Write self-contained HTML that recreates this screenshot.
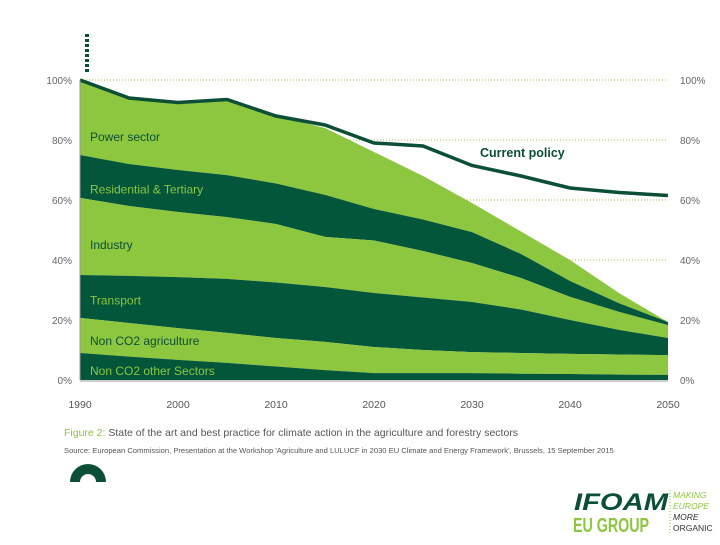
<!DOCTYPE html>
<html><head><meta charset="utf-8"><style>
body{margin:0;background:#fff;width:720px;height:540px;overflow:hidden;font-family:"Liberation Sans",sans-serif}
svg text{font-family:"Liberation Sans",sans-serif}
</style></head><body>
<svg id="chart" width="720" height="540" viewBox="0 0 720 540" xmlns="http://www.w3.org/2000/svg">
<g id="grid"></g><g id="areas"></g><g id="line"></g><g id="axes"></g><g id="labels"></g>
<text x="64" y="436" font-size="10.5" fill="#555"><tspan fill="#8dc63f">Figure 2:</tspan>  State of the art and best practice for climate action in the agriculture and forestry sectors</text>
<text x="64" y="453" font-size="7.6" fill="#555">Source: European Commission, Presentation at the Workshop 'Agriculture and LULUCF in 2030 EU Climate and Energy Framework', Brussels, 15 September 2015</text>
<path d="M70,482 A18,18 0 0 1 106,482 L96,482 A8,8 0 0 0 80,482 Z" fill="#0b4f36"/>
<g>
<text x="574" y="510" font-size="24" font-weight="bold" font-style="italic" fill="#0b4f36" textLength="94" lengthAdjust="spacingAndGlyphs">IFOAM</text>
<text x="573" y="532" font-size="20" font-weight="bold" fill="#8dc63f" textLength="76" lengthAdjust="spacingAndGlyphs">EU GROUP</text>
<line x1="670" y1="490" x2="670" y2="534" stroke="#8dc63f" stroke-dasharray="1,2"/>
<text x="673" y="498" font-size="8.5" font-style="italic" fill="#8dc63f">MAKING</text>
<text x="673" y="509" font-size="8.5" font-style="italic" fill="#8dc63f">EUROPE</text>
<text x="673" y="520" font-size="8.5" font-style="italic" fill="#333">MORE</text>
<text x="673" y="531" font-size="8.5" fill="#333">ORGANIC</text>
</g>
<g fill="#0b4f36">
<rect x="85" y="34" width="4" height="3"/><rect x="85" y="39" width="4" height="3"/><rect x="85" y="44" width="4" height="3"/><rect x="85" y="49" width="4" height="3"/><rect x="85" y="54" width="4" height="3"/><rect x="85" y="59" width="4" height="3"/><rect x="85" y="64" width="4" height="3"/><rect x="85" y="69" width="4" height="3"/>
</g>
</svg>
<script>
const years=[1990,1995,2000,2005,2010,2015,2020,2025,2030,2035,2040,2045,2050];
const currentPolicy=[100,94,92.5,93.5,88,85,79,78,71.5,68,64,62.5,61.5];
const powerTop=[100,94,92.5,93.5,88,84,76,68,59,49.5,40,29,19.3];
const residentialTop=[75,72,70,68.3,65.5,61.7,57,53.5,49.3,42,33,25.6,19.3];
const industryTop=[60.7,58,56,54.3,52,47.7,46.5,43,39,34,27.7,22.7,18.3];
const transportTop=[35,34.7,34.3,33.7,32.5,31,29,27.5,26,23.5,20,16.7,14];
const agriTop=[20.7,19,17.3,15.7,14,12.7,11,10,9.3,9,8.7,8.5,8.3];
const otherTop=[9,7.8,6.7,5.7,4.5,3.3,2.3,2.3,2.3,2.1,2,1.8,1.7];
const yTicks=[0,20,40,60,80,100];
const xTicks=[1990,2000,2010,2020,2030,2040,2050];
const layers=[
 {name:'power-sector',top:powerTop,label:'Power sector',ly:81,col:'#8dc63f',tc:'#0b4f36'},
 {name:'residential-tertiary',top:residentialTop,label:'Residential & Tertiary',ly:63.5,col:'#03563a',tc:'#8dc63f'},
 {name:'industry',top:industryTop,label:'Industry',ly:45,col:'#8dc63f',tc:'#0b4f36'},
 {name:'transport',top:transportTop,label:'Transport',ly:26.5,col:'#03563a',tc:'#8dc63f'},
 {name:'non-co2-agriculture',top:agriTop,label:'Non CO2 agriculture',ly:13,col:'#8dc63f',tc:'#0b4f36'},
 {name:'non-co2-other',top:otherTop,label:'Non CO2 other Sectors',ly:3,col:'#03563a',tc:'#8dc63f'}
];
const X=y=>80+(y-1990)*(588/60);
const Y=v=>380-v*3;
const NS='http://www.w3.org/2000/svg';
function mk(t,a,p){const e=document.createElementNS(NS,t);for(const k in a)e.setAttribute(k,a[k]);document.getElementById(p).appendChild(e);return e;}
yTicks.forEach(v=>{
 if(v>0){const g=mk('line',{x1:80,x2:668,y1:Y(v),y2:Y(v),stroke:'#a8b84a','stroke-dasharray':'1,2'},'grid');
 
 }
 const l=mk('text',{x:72,y:Y(v)+4,'font-size':10,fill:'#666','text-anchor':'end'},'axes');l.textContent=v+'%';
 
 
 const r=mk('text',{x:680,y:Y(v)+4,'font-size':10,fill:'#666'},'axes');r.textContent=v+'%';
 
 
});
layers.forEach((L,i)=>{
 const below=i<layers.length-1?layers[i+1].top:years.map(()=>0);
 let d='M'+years.map((y,j)=>X(y)+','+Y(L.top[j])).join('L');
 for(let j=years.length-1;j>=0;j--)d+='L'+X(years[j])+','+Y(below[j]);
 const p=mk('path',{d:d+'Z',fill:L.col},'areas');
 
 
 const t=mk('text',{x:90,y:Y(L.ly)+4,'font-size':12,fill:L.tc},'labels');t.textContent=L.label;
 
 
});
const ln=mk('polyline',{points:years.map((y,j)=>X(y)+','+Y(currentPolicy[j])).join(' '),fill:'none',stroke:'#0b4f36','stroke-width':3.5},'line');


const cl=mk('text',{x:480,y:157,'font-size':12.5,'font-weight':'bold',fill:'#0b4f36'},'labels');cl.textContent='Current policy';


const ax=mk('line',{x1:80,x2:80,y1:80,y2:380,stroke:'#999'},'axes');


const bx=mk('line',{x1:80,x2:668,y1:381,y2:381,stroke:'#999'},'axes');


xTicks.forEach(y=>{
 const t=mk('text',{x:X(y),y:408,'font-size':10.5,fill:'#555','text-anchor':'middle'},'axes');t.textContent=y;
 
 
});
</script>
</body></html>
